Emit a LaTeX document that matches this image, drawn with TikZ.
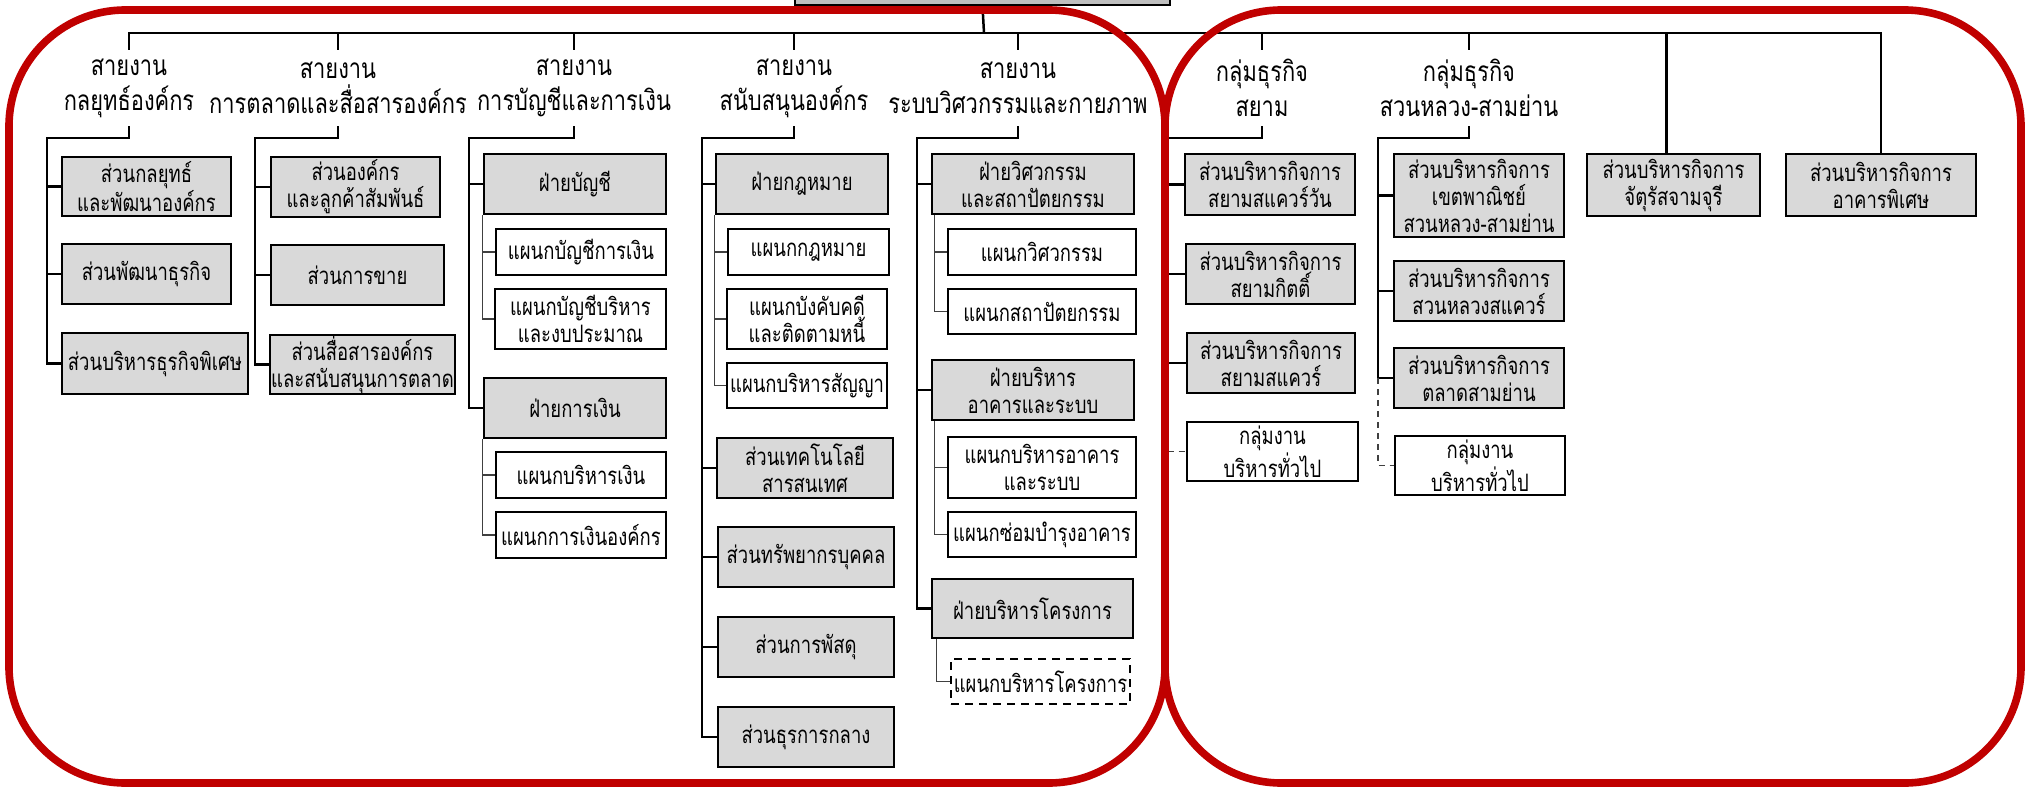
\documentclass[tikz,border=0pt]{standalone}
\usepackage{fontspec}
\newfontfamily\thai[Script=Thai,FakeStretch=0.77]{Loma}
\newfontfamily\thaihead[Script=Thai,FakeStretch=0.78]{Loma}
\usetikzlibrary{calc}
\definecolor{framered}{RGB}{192,0,0}
\definecolor{boxgray}{RGB}{217,217,217}
\definecolor{rootgray}{RGB}{191,191,191}
\tikzset{
  x=0.5pt, y=-0.5pt,
  basebox/.style={draw=black, line width=1.3pt, inner sep=0pt, align=center,
    font=\thai\fontsize{12pt}{13.5pt}\selectfont},
  graybox/.style={basebox, fill=boxgray},
  whitebox/.style={basebox, fill=white},
  dashbox/.style={basebox, fill=white, dashed, dash pattern=on 4pt off 3pt, line width=1pt},
  rootbox/.style={draw=black, line width=1.3pt, fill=rootgray},
  header/.style={inner sep=0pt, align=center, minimum height=38pt,
    font=\thaihead\fontsize{14pt}{17.5pt}\selectfont},
  conn/.style={draw=black, line width=1.25pt},
  subconn/.style={draw=black!75, line width=0.55pt},
  dconn/.style={draw=black!75, line width=0.8pt, dashed, dash pattern=on 3pt off 2.5pt},
  redframe/.style={draw=framered, line width=3.8pt, rounded corners=58pt},
}
\newcommand\orgbox[7]{%
  \pgfmathsetmacro\obw{(#5-#3)*0.5}\pgfmathsetmacro\obh{(#6-#4)*0.5}%
  \node[#2, minimum width=\obw pt, minimum height=\obh pt] (#1) at ({(#3+#5)/2},{(#4+#6)/2}) {#7};}
\begin{document}
\begin{tikzpicture}
\useasboundingbox (0,0) rectangle (2031,787);
\fill[white] (0,0) rectangle (2031,787);
% root
\orgbox{root}{rootbox}{795}{-40}{1170}{5}{}
\coordinate (top) at (984,33);
% headers
\node[header] (h1) at (129,88) {สายงาน\\กลยุทธ์องค์กร};
\node[header] (h2) at (338,88) {สายงาน\\การตลาดและสื่อสารองค์กร};
\node[header] (h3) at (574,88) {สายงาน\\การบัญชีและการเงิน};
\node[header] (h4) at (794,88) {สายงาน\\สนับสนุนองค์กร};
\node[header] (h5) at (1018,88) {สายงาน\\ระบบวิศวกรรมและกายภาพ};
\node[header] (h6) at (1262,88) {กลุ่มธุรกิจ\\สยาม};
\node[header] (h7) at (1469,88) {กลุ่มธุรกิจ\\สวนหลวง-สามย่าน};
% column 1
\orgbox{c1a}{graybox}{62}{157}{231}{216}{ส่วนกลยุทธ์\\และพัฒนาองค์กร}
\orgbox{c1b}{graybox}{62}{244}{231}{304}{ส่วนพัฒนาธุรกิจ}
\orgbox{c1c}{graybox}{62}{333}{248}{394}{ส่วนบริหารธุรกิจพิเศษ}
% column 2
\orgbox{c2a}{graybox}{271}{157}{440}{217}{ส่วนองค์กร\\และลูกค้าสัมพันธ์}
\orgbox{c2b}{graybox}{271}{245}{444}{305}{ส่วนการขาย}
\orgbox{c2c}{graybox}{270}{335}{455}{394}{ส่วนสื่อสารองค์กร\\และสนับสนุนการตลาด}
% column 3
\orgbox{c3a}{graybox}{484}{154}{666}{214}{ฝ่ายบัญชี}
\orgbox{c3a1}{whitebox}{496}{229}{666}{275}{แผนกบัญชีการเงิน}
\orgbox{c3a2}{whitebox}{495}{289}{666}{349}{แผนกบัญชีบริหาร\\และงบประมาณ}
\orgbox{c3b}{graybox}{484}{378}{666}{438}{ฝ่ายการเงิน}
\orgbox{c3b1}{whitebox}{496}{452}{666}{498}{แผนกบริหารเงิน}
\orgbox{c3b2}{whitebox}{496}{512}{666}{558}{แผนกการเงินองค์กร}
% column 4
\orgbox{c4a}{graybox}{716}{154}{888}{214}{ฝ่ายกฎหมาย}
\orgbox{c4a1}{whitebox}{728}{229}{889}{275}{แผนกกฎหมาย}
\orgbox{c4a2}{whitebox}{727}{289}{887}{349}{แผนกบังคับคดี\\และติดตามหนี้}
\orgbox{c4a3}{whitebox}{727}{363}{887}{408}{แผนกบริหารสัญญา}
\orgbox{c4b}{graybox}{717}{438}{893}{498}{ส่วนเทคโนโลยี\\สารสนเทศ}
\orgbox{c4c}{graybox}{718}{527}{894}{587}{ส่วนทรัพยากรบุคคล}
\orgbox{c4d}{graybox}{718}{617}{894}{677}{ส่วนการพัสดุ}
\orgbox{c4e}{graybox}{718}{707}{894}{767}{ส่วนธุรการกลาง}
% column 5
\orgbox{c5a}{graybox}{932}{154}{1134}{214}{ฝ่ายวิศวกรรม\\และสถาปัตยกรรม}
\orgbox{c5a1}{whitebox}{948}{229}{1136}{275}{แผนกวิศวกรรม}
\orgbox{c5a2}{whitebox}{948}{289}{1136}{334}{แผนกสถาปัตยกรรม}
\orgbox{c5b}{graybox}{932}{360}{1134}{420}{ฝ่ายบริหาร\\อาคารและระบบ}
\orgbox{c5b1}{whitebox}{948}{437}{1136}{498}{แผนกบริหารอาคาร\\และระบบ}
\orgbox{c5b2}{whitebox}{948}{512}{1136}{557}{แผนกซ่อมบำรุงอาคาร}
\orgbox{c5c}{graybox}{932}{579}{1133}{638}{ฝ่ายบริหารโครงการ}
\orgbox{c5c1}{dashbox}{951}{659}{1130}{704}{แผนกบริหารโครงการ}
% column 6
\orgbox{c6a}{graybox}{1185}{154}{1355}{215}{ส่วนบริหารกิจการ\\สยามสแควร์วัน}
\orgbox{c6b}{graybox}{1186}{244}{1355}{304}{ส่วนบริหารกิจการ\\สยามกิตติ์}
\orgbox{c6c}{graybox}{1187}{333}{1355}{393}{ส่วนบริหารกิจการ\\สยามสแควร์}
\orgbox{c6d}{whitebox}{1187}{422}{1358}{481}{กลุ่มงาน\\บริหารทั่วไป}
% column 7
\orgbox{c7a}{graybox}{1394}{154}{1564}{237}{ส่วนบริหารกิจการ\\เขตพาณิชย์\\สวนหลวง-สามย่าน}
\orgbox{c7b}{graybox}{1394}{261}{1564}{321}{ส่วนบริหารกิจการ\\สวนหลวงสแควร์}
\orgbox{c7c}{graybox}{1394}{348}{1564}{408}{ส่วนบริหารกิจการ\\ตลาดสามย่าน}
\orgbox{c7d}{whitebox}{1395}{436}{1565}{495}{กลุ่มงาน\\บริหารทั่วไป}
% columns 8, 9
\orgbox{c8}{graybox}{1587}{154}{1760}{216}{ส่วนบริหารกิจการ\\จัตุรัสจามจุรี}
\orgbox{c9}{graybox}{1786}{154}{1976}{216}{ส่วนบริหารกิจการ\\อาคารพิเศษ}

% top line and ticks
\draw[conn] (root.south) -- (top);
\draw[conn] (h1.north) -- (h1.north |- top) -- (top -| c9.north) -- (c9.north);
\foreach \h in {h2,h3,h4,h5,h6,h7} \draw[conn] (\h.north) -- (\h.north |- top);
\draw[conn] ([xshift=-3.5pt]c8.north) -- ([xshift=-3.5pt]c8.north |- top);

% trunk coordinates
\coordinate (t1) at (47,138);
\coordinate (t2) at (255,138);
\coordinate (t3) at (469,138);
\coordinate (t4) at (702,138);
\coordinate (t5) at (917,138);
\coordinate (t6) at (1168,138);
\coordinate (t7) at (1378,138);

% column 1
\draw[conn] (h1.south) |- (t1) |- (c1c.west);
\foreach \b in {c1a,c1b} \draw[conn] (t1 |- \b.west) -- (\b.west);
% column 2
\draw[conn] (h2.south) |- (t2) |- (c2c.west);
\foreach \b in {c2a,c2b} \draw[conn] (t2 |- \b.west) -- (\b.west);
% column 3
\draw[conn] (h3.south) |- (t3) |- (c3b.west);
\draw[conn] (t3 |- c3a.west) -- (c3a.west);
\draw[subconn] (c3a.south west) |- (c3a2.west);
\draw[subconn] (c3a.south west |- c3a1.west) -- (c3a1.west);
\draw[subconn] (c3b.south west) |- (c3b2.west);
\draw[subconn] (c3b.south west |- c3b1.west) -- (c3b1.west);
% column 4
\draw[conn] (h4.south) |- (t4) |- (c4e.west);
\foreach \b in {c4a,c4b,c4c,c4d} \draw[conn] (t4 |- \b.west) -- (\b.west);
\draw[subconn] (c4a.south west) |- (c4a3.west);
\foreach \b in {c4a1,c4a2} \draw[subconn] (c4a.south west |- \b.west) -- (\b.west);
% column 5
\draw[conn] (h5.south) |- (t5) |- (c5c.west);
\foreach \b in {c5a,c5b} \draw[conn] (t5 |- \b.west) -- (\b.west);
\draw[subconn] ([xshift=2pt]c5a.south west) |- (c5a2.west);
\draw[subconn] ([xshift=2pt]c5a.south west |- c5a1.west) -- (c5a1.west);
\draw[subconn] ([xshift=2pt]c5b.south west) |- (c5b2.west);
\draw[subconn] ([xshift=2pt]c5b.south west |- c5b1.west) -- (c5b1.west);
\draw[subconn] ([xshift=3pt]c5c.south west) |- (c5c1.west);
% column 6
\draw[conn] (h6.south) |- (t6) |- (c6c.west);
\foreach \b in {c6a,c6b} \draw[conn] (t6 |- \b.west) -- (\b.west);
\draw[dconn] (t6 |- c6c.west) |- (c6d.west);
% column 7
\draw[conn] (h7.south) |- (t7) |- (c7c.west);
\foreach \b in {c7a,c7b} \draw[conn] (t7 |- \b.west) -- (\b.west);
\draw[dconn] (t7 |- c7c.west) |- (c7d.west);

% red frames
\draw[redframe] (9,10) rectangle (1165,783);
\draw[redframe] (1165,10) rectangle (2021,783);
\end{tikzpicture}
\end{document}
